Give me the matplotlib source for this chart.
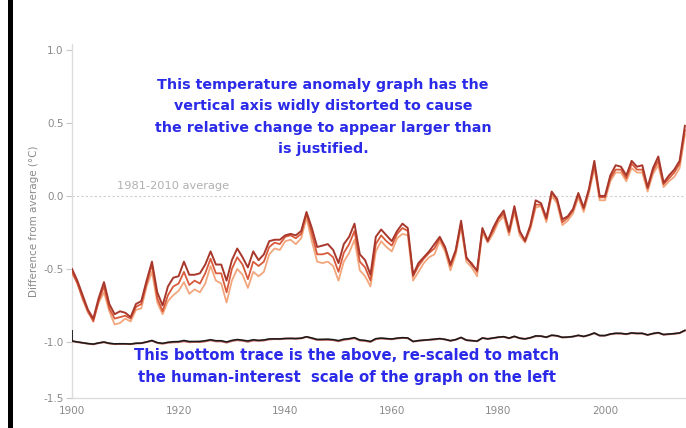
import numpy as np
import matplotlib
matplotlib.use("Agg")
import matplotlib.pyplot as plt
from matplotlib.lines import Line2D

years = list(range(1900, 2016))

series_dark = [
    -0.50, -0.58, -0.68, -0.78, -0.84, -0.70, -0.59, -0.74, -0.81, -0.79,
    -0.80, -0.83, -0.74, -0.72, -0.58, -0.45, -0.66, -0.75, -0.62, -0.56,
    -0.55, -0.45, -0.54, -0.54, -0.53, -0.47, -0.38, -0.47, -0.47, -0.58,
    -0.44, -0.36, -0.42, -0.49, -0.38, -0.44, -0.40, -0.31, -0.30, -0.30,
    -0.27, -0.26, -0.27, -0.24, -0.11, -0.22, -0.35, -0.34, -0.33, -0.37,
    -0.46, -0.33, -0.28, -0.19, -0.40, -0.44, -0.54, -0.28, -0.23, -0.27,
    -0.31, -0.24, -0.19, -0.22, -0.54, -0.46, -0.42, -0.38, -0.33, -0.28,
    -0.35, -0.47, -0.37, -0.17, -0.42, -0.47, -0.51, -0.22, -0.31, -0.22,
    -0.15, -0.10, -0.24, -0.07, -0.24, -0.31, -0.20, -0.03, -0.05, -0.15,
    0.03, -0.02, -0.16, -0.14, -0.09, 0.02, -0.08, 0.05, 0.24, 0.00,
    0.00, 0.14, 0.21, 0.20, 0.14, 0.24, 0.20, 0.21, 0.06, 0.19,
    0.27, 0.09, 0.14, 0.18, 0.24, 0.48,
]

series_mid = [
    -0.52, -0.60, -0.70, -0.79, -0.86, -0.72, -0.62, -0.77, -0.84, -0.83,
    -0.82, -0.84, -0.76, -0.74, -0.60, -0.47, -0.70, -0.79, -0.68, -0.62,
    -0.60, -0.52, -0.61, -0.58, -0.60, -0.53, -0.43, -0.53, -0.53, -0.66,
    -0.50, -0.42, -0.47, -0.57, -0.45, -0.48, -0.45, -0.35, -0.32, -0.33,
    -0.28, -0.27, -0.29, -0.26, -0.12, -0.26, -0.40, -0.40, -0.39, -0.42,
    -0.52, -0.39, -0.33, -0.24, -0.45, -0.49, -0.58, -0.33, -0.27, -0.31,
    -0.34, -0.26, -0.22, -0.24, -0.55, -0.48, -0.43, -0.39, -0.36, -0.29,
    -0.36, -0.48, -0.38, -0.19, -0.43, -0.46, -0.52, -0.23, -0.30, -0.24,
    -0.16, -0.12, -0.25, -0.09, -0.25, -0.30, -0.21, -0.06, -0.06, -0.16,
    0.02, -0.03, -0.18, -0.15, -0.10, 0.01, -0.09, 0.04, 0.21, -0.01,
    -0.01, 0.12, 0.18, 0.18, 0.12, 0.22, 0.18, 0.18, 0.05, 0.17,
    0.24, 0.08, 0.12, 0.16, 0.22, 0.45,
]

series_light = [
    -0.53, -0.59, -0.71, -0.80, -0.85, -0.73, -0.66, -0.79, -0.88, -0.87,
    -0.84, -0.86, -0.78, -0.77, -0.62, -0.52, -0.73, -0.81, -0.72, -0.68,
    -0.65, -0.59, -0.67, -0.64, -0.66, -0.60, -0.48, -0.58, -0.60, -0.73,
    -0.58, -0.50, -0.54, -0.63, -0.52, -0.55, -0.52, -0.40, -0.36, -0.37,
    -0.31, -0.30, -0.33, -0.29, -0.15, -0.31, -0.45, -0.46, -0.45, -0.48,
    -0.58, -0.45, -0.39, -0.30, -0.51, -0.55, -0.62, -0.38, -0.31, -0.35,
    -0.38, -0.29, -0.26, -0.27, -0.58, -0.52, -0.46, -0.42, -0.40, -0.31,
    -0.38, -0.51, -0.40, -0.21, -0.45, -0.49, -0.55, -0.25, -0.32, -0.26,
    -0.18, -0.14, -0.27, -0.11, -0.27, -0.32, -0.23, -0.08, -0.07, -0.18,
    0.00, -0.05, -0.20, -0.17, -0.12, -0.01, -0.11, 0.02, 0.19, -0.03,
    -0.03, 0.10, 0.16, 0.16, 0.10, 0.19, 0.16, 0.16, 0.03, 0.15,
    0.21, 0.06, 0.10, 0.13, 0.19, 0.42,
]

# re-scaled copy of the dark series drawn near -1.0
rescale_factor = 0.075
rescale_offset = -0.956

x_ticks = [1900, 1920, 1940, 1960, 1980, 2000]
y_ticks = [-1.5, -1.0, -0.5, 0.0, 0.5, 1.0]
y_tick_labels = ["-1.5", "-1.0", "-0.5", "0.0", "0.5", "1.0"]

note_top = ("This temperature anomaly graph has the\n"
            "vertical axis widly distorted to cause\n"
            "the relative change to appear larger than\n"
            "is justified.")
note_bottom = ("This bottom trace is the above, re-scaled to match\n"
               "the human-interest  scale of the graph on the left")

# ---- piecewise-linear y scale (lowest interval is drawn shorter) ----
_v = [-5.0, -1.5, -1.0, 5.0]
_t = [-1.0 - 0.3836 - 3.5 * 0.767, -1.3836, -1.0, 5.0]

def fwd(v):
    return np.interp(v, _v, _t)

def inv(t):
    return np.interp(t, _t, _v)

fig = plt.figure(figsize=(6.86, 4.28), dpi=100)
ax = fig.add_axes([72 / 686, 1 - 398 / 428, 614 / 686, 354 / 428])
ax.set_yscale("function", functions=(fwd, inv))

yrs = np.array(years)
c_dark, c_mid, c_light = "#a8382c", "#d85a3b", "#f2a67c"

ax.plot(yrs, series_light, color=c_light, lw=1.3, zorder=3)
ax.plot(yrs, series_mid, color=c_mid, lw=1.3, zorder=4)
ax.plot(yrs, series_dark, color=c_dark, lw=1.4, zorder=5)

d = np.array(series_dark)
m = np.array(series_mid)
bottom_dark = rescale_offset + rescale_factor * d
bottom_mid = rescale_offset + rescale_factor * m
ax.plot(yrs, bottom_mid, color=c_dark, lw=1.4, zorder=4, alpha=0.8)
ax.plot(yrs, bottom_dark, color="#1a1a1a", lw=1.1, zorder=5)
ax.vlines(yrs[0], bottom_dark[0], bottom_dark.max(), color="#1a1a1a", lw=1.3, zorder=5)

ax.axhline(0.0, color="#cfcfcf", lw=0.8, ls=(0, (2, 2)), zorder=1)
ax.text(1908.5, 0.035, "1981-2010 average", color="#b0b0b0", fontsize=8.2,
        ha="left", va="bottom")

ax.set_xlim(1900, 2015.2)
ax.set_ylim(-1.5, 1.04)
ax.set_xticks(x_ticks)
ax.set_xticklabels([str(t) for t in x_ticks])
ax.set_yticks(y_ticks)
ax.set_yticklabels(y_tick_labels)

for s in ["top", "right"]:
    ax.spines[s].set_visible(False)
for s in ["left", "bottom"]:
    ax.spines[s].set_color("#dcdcdc")
    ax.spines[s].set_linewidth(1.0)
ax.tick_params(axis="both", colors="#c8c8c8", labelcolor="#8a8a8a",
               labelsize=7.5, length=4, width=0.8)
ax.tick_params(axis="x", length=0, pad=6)
ax.tick_params(axis="y", pad=2)
ax.set_ylabel("Difference from average (°C)", color="#8a8a8a", fontsize=7.5,
              labelpad=3)
ax.patch.set_alpha(0)

fig.text(323 / 686, 1 - 117 / 428, note_top, ha="center", va="center",
         color="#2a2ae8", fontsize=10.3, fontweight="bold",
         family="DejaVu Sans", linespacing=1.66)
fig.text(347 / 686, 1 - 366.5 / 428, note_bottom, ha="center", va="center",
         color="#2a2ae8", fontsize=10.7, fontweight="bold",
         family="DejaVu Sans", linespacing=1.52)

fig.add_artist(Line2D([10 / 686, 10 / 686], [0, 1], transform=fig.transFigure,
                      color="black", lw=3.6))

fig.savefig("out.png", dpi=100)
